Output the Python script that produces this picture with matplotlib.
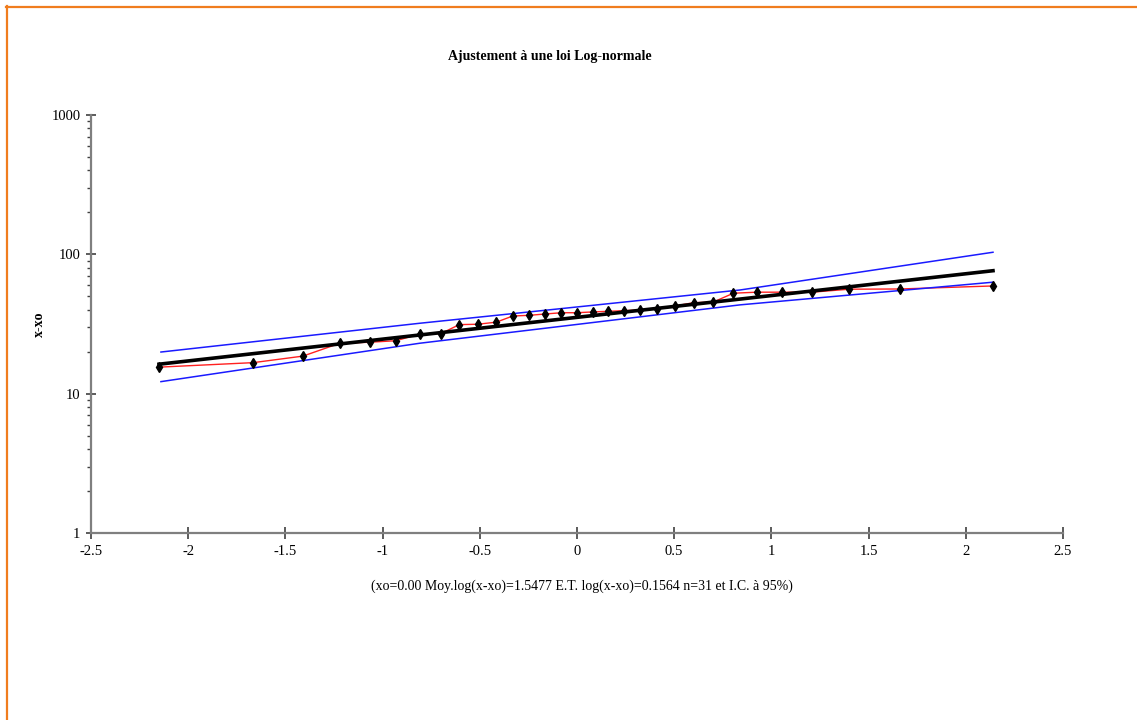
import numpy as np
import matplotlib.pyplot as plt
from matplotlib.lines import Line2D

# normal scores (x) and observed values x-xo (y), n=31
z = [-2.15, -1.665, -1.41, -1.22, -1.065, -0.93, -0.81, -0.70, -0.605, -0.51,
     -0.415, -0.33, -0.245, -0.165, -0.08, 0.0, 0.08, 0.16, 0.24, 0.325,
     0.41, 0.505, 0.60, 0.70, 0.805, 0.925, 1.055, 1.21, 1.40, 1.66, 2.14]
obs = [15.5, 16.7, 18.6, 23.0, 23.4, 24.0, 26.8, 27.0, 31.3, 31.5,
       32.6, 36.1, 36.5, 37.3, 38.1, 38.1, 38.6, 39.0, 39.4, 39.9,
       40.8, 42.6, 45.0, 45.4, 52.6, 53.5, 53.5, 53.5, 56.2, 56.4, 59.3]

# log-normal fit parameters
xo = 0.00
moy_log = 1.5477
et_log = 0.1564
n = 31

# 95% confidence band
ci_z = [-2.14, -0.81, 0.0, 0.84, 2.14]
ci_up = [19.9, 32.0, 41.9, 55.5, 103.5]
ci_low = [12.2, 23.0, 31.4, 43.4, 63.1]

plt.rcParams['font.family'] = ['Liberation Serif', 'DejaVu Serif']

fig = plt.figure(figsize=(11.37, 7.2), dpi=100)
ax = fig.add_axes([0.0800, 0.2597, 0.8549, 0.5806])

ax.plot(z, obs, color='#ff2020', lw=1.0, zorder=2)
ax.plot(ci_z, ci_up, color='#1a1aff', lw=1.1, zorder=3)
ax.plot(ci_z, ci_low, color='#1a1aff', lw=1.1, zorder=3)

zf = np.array([z[0], z[-1]])
ax.plot(zf, 10 ** (moy_log + et_log * zf), color='black', lw=2.6, zorder=4)
ax.plot(z, obs, ls='none', marker='d', ms=5.2, color='black', zorder=5)

ax.set_yscale('log')
ax.set_xlim(-2.5, 2.5)
ax.set_ylim(1, 1000)
ax.set_xticks(np.arange(-2.5, 2.51, 0.5))
ax.set_xticklabels(['-2.5', '-2', '-1.5', '-1', '-0.5', '0', '0.5', '1', '1.5', '2', '2.5'])
ax.set_yticks([1, 10, 100, 1000])
ax.set_yticklabels(['1', '10', '100', '1000'])
ax.minorticks_on()
ax.xaxis.set_minor_locator(plt.NullLocator())

for s in ['top', 'right']:
    ax.spines[s].set_visible(False)
for s in ['left', 'bottom']:
    ax.spines[s].set_color('#7f7f7f')
    ax.spines[s].set_linewidth(1.6)

ax.tick_params(axis='x', which='major', direction='inout', length=9, width=1.2,
               color='#404040', pad=4, labelsize=10.5)
ax.tick_params(axis='y', which='major', direction='inout', length=7, width=1.2,
               color='#404040', pad=4, labelsize=10.5)
ax.tick_params(axis='y', which='minor', direction='out', length=3, width=1.0,
               color='#404040')
ax.patch.set_visible(False)

fig.text(0.4833, 0.921, 'Ajustement à une loi Log-normale', ha='center', va='center',
         fontsize=10, fontweight='bold')
fig.text(0.035, 0.55, 'x-xo', rotation=90, ha='center', va='center',
         fontsize=10, fontweight='bold')
fig.text(0.512, 0.186,
         f'(xo={xo:.2f} Moy.log(x-xo)={moy_log:.4f} E.T. log(x-xo)={et_log:.4f} '
         f'n={n} et I.C. à 95%)',
         ha='center', va='center', fontsize=10)

# orange frame on top and left edges
fig.add_artist(Line2D([6 / 1137, 1], [1 - 6.5 / 720, 1 - 6.5 / 720],
                      transform=fig.transFigure, color='#f07d1e', lw=1.6))
fig.add_artist(Line2D([6.5 / 1137, 6.5 / 1137], [0, 1 - 6 / 720],
                      transform=fig.transFigure, color='#f07d1e', lw=1.6))

fig.savefig('out.png', dpi=100)
